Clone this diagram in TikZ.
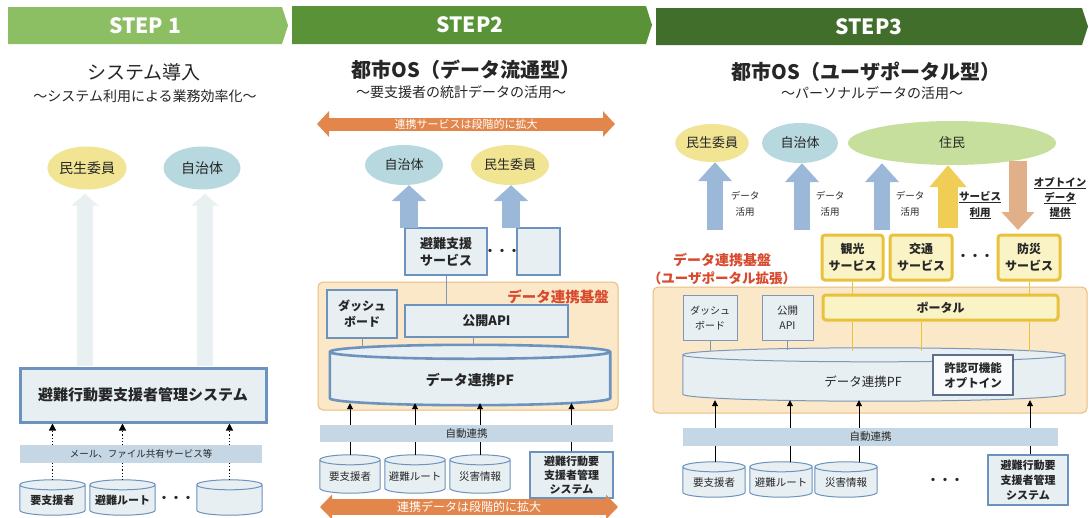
\documentclass[tikz,border=0pt]{standalone}
\usepackage{fontspec}
\setmainfont{Noto Sans CJK JP}
\usetikzlibrary{arrows.meta,shapes.geometric,calc}
\pgfdeclarelayer{bg}
\pgfdeclarelayer{mid}
\pgfsetlayers{bg,mid,main}
\definecolor{stepA}{HTML}{8CBE64}
\definecolor{stepB}{HTML}{5A9337}
\definecolor{stepC}{HTML}{426E2C}
\definecolor{boxblue}{HTML}{6B93BE}
\definecolor{boxfill}{HTML}{E7EFF3}
\definecolor{bandblue}{HTML}{C5D7E5}
\definecolor{ellY}{HTML}{F1E594}
\definecolor{ellB}{HTML}{B7D8DF}
\definecolor{ellG}{HTML}{C6DF9C}
\definecolor{arrB}{HTML}{9BB8D9}
\definecolor{arrO}{HTML}{E2864C}
\definecolor{arrO2}{HTML}{E2B088}
\definecolor{arrY}{HTML}{F0CE55}
\definecolor{faint}{HTML}{E8F0F1}
\definecolor{contF}{HTML}{FBE8C8}
\definecolor{contD}{HTML}{E9BC7E}
\definecolor{redT}{HTML}{D84A2E}
\definecolor{ygold}{HTML}{E8C23C}
\definecolor{yfill}{HTML}{FAF3C6}
\definecolor{txt}{HTML}{262626}
\definecolor{connc}{HTML}{7E97B5}
\definecolor{permD}{HTML}{5C6F8C}
\newcommand\fs[2]{\fontsize{#1}{#2}\selectfont}
\newcommand\cyltext[2]{\raisebox{-#1}[\height][\depth]{#2}}
\newcommand\drawcyl[3]{%
  \begin{pgfonlayer}{mid}
  \path[#3] let \p1=(#1.north west), \p2=(#1.south east) in
    (\x1,\y1-#2) -- (\x1,\y2+#2)
    arc[start angle=180, end angle=360, x radius={(\x2-\x1)/2}, y radius=#2]
    -- (\x2,\y1-#2)
    arc[start angle=0, end angle=180, x radius={(\x2-\x1)/2}, y radius=#2] -- cycle
    (\x1,\y1-#2) arc[start angle=180, end angle=360, x radius={(\x2-\x1)/2}, y radius=#2];
  \end{pgfonlayer}}
\tikzset{
  every node/.style={align=center, text=txt, inner sep=0pt},
  steptxt/.style={text=white, font=\fs{21}{21}\bfseries},
  ell/.style={ellipse, inner sep=0pt},
  bluebox/.style={draw=boxblue, line width=2.6pt, fill=boxfill},
  thinbox/.style={draw=boxblue, line width=1pt, fill=boxfill},
  ybox/.style={draw=ygold, line width=3pt, fill=yfill, rounded corners=3pt},
  band/.style={fill=bandblue},
  cyl/.style={inner sep=0pt},
  conn/.style={draw=connc, line width=0.8pt},
  yconn/.style={draw=ygold, line width=0.8pt},
  blk/.style={draw=black, line width=0.9pt},
  uparrow/.style={draw=black, line width=0.9pt, -{Triangle[length=6pt,width=6pt]}},
  barrow/.style n args={4}{draw=#1, line width=#2, -{Triangle[length=#3,width=#4]}},
  darrow/.style n args={4}{draw=#1, line width=#2, {Triangle[length=#3,width=#4]}-{Triangle[length=#3,width=#4]}},
  cont/.style={fill=contF, draw=contD, line width=1pt, rounded corners=5pt},
}
\begin{document}
\begin{tikzpicture}[x=1pt,y=-1pt]
\useasboundingbox (0,0) rectangle (1092,517);
\begin{pgfonlayer}{bg}
\fill[white] (0,0) rectangle (1092,517);
\end{pgfonlayer}

% ---------- banners
\fill[stepA] (8,7) -- (282,7) -- (288,25.5) -- (282,44) -- (8,44) -- cycle;
\fill[stepB] (292,6) -- (646,6) -- (652,25) -- (646,44) -- (292,44) -- cycle;
\fill[stepC] (656,8) -- (1082,8) -- (1088,26.5) -- (1082,45) -- (656,45) -- cycle;
\node[steptxt] (t1) at (145,26) {STEP 1};
\node[steptxt] (t2) at (470,25) {STEP2};
\node[steptxt] (t3) at (869,27) {STEP3};

% ---------- STEP 1
\node[font=\fs{19}{19}] (title1) at (144,72) {システム導入};
\node[font=\fs{14}{14}] (sub1) at (145,96) {～システム利用による業務効率化～};
\node[ell, fill=ellY, minimum width=77pt, minimum height=43pt, font=\fs{14}{14}] (e11) at (87,168) {民生委員};
\node[ell, fill=ellB, minimum width=77pt, minimum height=43pt, font=\fs{14}{14}] (e12) at (202,168) {自治体};
\node[bluebox, line width=3pt, minimum width=246pt, minimum height=54pt, font=\fs{15}{15}\bfseries] (sys1) at (143,395) {避難行動要支援者管理システム};
\coordinate (f1) at (85,366);
\coordinate (f2) at (205,366);
\draw[barrow={faint}{16pt}{12pt}{26pt}] (f1) -- ($(f1 |- e11.south)+(0,4)$);
\draw[barrow={faint}{16pt}{12pt}{26pt}] (f2) -- ($(f2 |- e12.south)+(0,4)$);
\node[band, minimum width=242pt, minimum height=18pt, font=\fs{9.5}{9.5}] (band1) at (141,454) {メール、ファイル共有サービス等};
\node[cyl, minimum width=65pt, minimum height=35pt, font=\fs{11}{11}\bfseries] (c11) at (52.5,497.5) {\cyltext{3pt}{要支援者}};
\node[cyl, minimum width=65pt, minimum height=35pt, font=\fs{11}{11}\bfseries] (c12) at (122.5,497.5) {\cyltext{3pt}{避難ルート}};
\node[cyl, minimum width=65pt, minimum height=35pt] (c13) at (229.5,497.5) {};
\drawcyl{c11}{5pt}{draw=boxblue, line width=1pt, fill=boxfill}
\drawcyl{c12}{5pt}{draw=boxblue, line width=1pt, fill=boxfill}
\drawcyl{c13}{5pt}{draw=boxblue, line width=1pt, fill=boxfill}
\node[font=\fs{12}{12}\bfseries] (dots1) at (176,499) {・・・};
\foreach \c in {c11,c12,c13}{
  \draw[dotted, line width=1.1pt] (\c.north) -- (\c.north |- band1.south);
  \draw[dotted, line width=1.1pt, -{Triangle[length=7pt,width=7pt]}] (band1.north -| \c.north) -- (sys1.south -| \c.north);
}

% ---------- STEP 2
\node[font=\fs{20}{20}\bfseries] (title2) at (466,70) {都市OS（データ流通型）};
\node[font=\fs{14}{14}] (sub2) at (461,92) {～要支援者の統計データの活用～};
\coordinate (o21) at (317,124);
\coordinate (o22) at (615,124);
\draw[darrow={arrO}{13pt}{12pt}{25pt}] (o21) -- (o22) node[midway, text=white, font=\fs{11}{11}] (o2t) {連携サービスは段階的に拡大};
\node[ell, fill=ellB, minimum width=78pt, minimum height=40pt, font=\fs{13}{13}] (e21) at (404,165) {自治体};
\node[ell, fill=ellY, minimum width=78pt, minimum height=40pt, font=\fs{13}{13}] (e22) at (510,165) {民生委員};
\node[bluebox, minimum width=82pt, minimum height=47pt, font=\fs{13}{17}\bfseries] (svc2) at (446,251.5) {避難支援\\サービス};
\node[font=\fs{12}{12}\bfseries] (dots2) at (502,252) {・・・};
\node[bluebox, minimum width=43pt, minimum height=47pt] (emp2) at (538.5,251.5) {};
\coordinate (a21) at (409,228);
\coordinate (a22) at (511,228);
\draw[barrow={arrB}{18pt}{16pt}{34pt}] (a21) -- (a21 |- e21.south);
\draw[barrow={arrB}{18pt}{16pt}{34pt}] (a22) -- (a22 |- e22.south);
\begin{pgfonlayer}{bg}
\draw[cont] (318,282) rectangle (618,410);
\end{pgfonlayer}
\node[anchor=east, text=redT, font=\fs{14.5}{14.5}\bfseries] (lbl2) at (609,297) {データ連携基盤};
\node[bluebox, minimum width=70pt, minimum height=48pt, font=\fs{12}{16}\bfseries] (dash2) at (362,314) {ダッシュ\\ボード};
\node[bluebox, minimum width=163pt, minimum height=32pt, font=\fs{13}{13}\bfseries] (api2) at (486.5,321) {公開API};
\node[cyl, minimum width=280pt, minimum height=60pt, font=\fs{14}{14}\bfseries] (pf2) at (470,375) {\cyltext{5pt}{データ連携PF}};
\drawcyl{pf2}{7pt}{draw=boxblue, line width=2.6pt, fill=boxfill}
\draw[conn] (svc2.south) -- (svc2.south |- api2.north);
\draw[conn] (dash2.south) -- ($(dash2.south |- pf2.north)+(0,3)$);
\coordinate (ap2) at (473,0);
\draw[conn] (api2.south -| ap2) -- ($(ap2 |- pf2.north)+(0,1)$);
\node[band, minimum width=293pt, minimum height=17pt, font=\fs{10.5}{10.5}] (band2) at (466.5,433.5) {自動連携};
\node[cyl, minimum width=60pt, minimum height=38pt, font=\fs{10.5}{10.5}] (c21) at (350,474) {\cyltext{3pt}{要支援者}};
\node[cyl, minimum width=60pt, minimum height=38pt, font=\fs{10.5}{10.5}] (c22) at (415,474) {\cyltext{3pt}{避難ルート}};
\node[cyl, minimum width=60pt, minimum height=38pt, font=\fs{10.5}{10.5}] (c23) at (480,474) {\cyltext{3pt}{災害情報}};
\drawcyl{c21}{5pt}{draw=boxblue, line width=1pt, fill=boxfill}
\drawcyl{c22}{5pt}{draw=boxblue, line width=1pt, fill=boxfill}
\drawcyl{c23}{5pt}{draw=boxblue, line width=1pt, fill=boxfill}
\node[thinbox, line width=1.4pt, minimum width=83pt, minimum height=46pt, font=\fs{11}{14}\bfseries] (sys2) at (571.5,475) {避難行動要\\支援者管理\\システム};
\foreach \c in {c21,c22,c23,sys2}{
  \draw[blk] (\c.north) -- (\c.north |- band2.south);
  \draw[uparrow] (band2.north -| \c.north) -- ($(pf2.south -| \c.north)+(0,-2)$);
}
\coordinate (o23) at (320,507);
\coordinate (o24) at (618,507);
\draw[darrow={arrO}{16pt}{12pt}{24pt}] (o23) -- (o24) node[midway, text=white, font=\fs{12}{12}] (o2b) {連携データは段階的に拡大};

% ---------- STEP 3
\node[font=\fs{20}{20}\bfseries] (title3) at (866,72) {都市OS（ユーザポータル型）};
\node[font=\fs{14}{14}] (sub3) at (872,93) {～パーソナルデータの活用～};
\node[ell, fill=ellY, minimum width=72pt, minimum height=38pt, font=\fs{13}{13}] (e31) at (712,143) {民生委員};
\node[ell, fill=ellB, minimum width=76pt, minimum height=40pt, font=\fs{13}{13}] (e32) at (800,143) {自治体};
\node[ell, fill=ellG, minimum width=208pt, minimum height=44pt, font=\fs{13}{13}] (e33) at (952,143) {住民};
\coordinate (b31) at (715,230);
\coordinate (b32) at (802,230);
\coordinate (b33) at (882,230);
\draw[barrow={arrB}{16pt}{19pt}{33pt}] (b31) -- (b31 |- e31.south);
\draw[barrow={arrB}{16pt}{19pt}{33pt}] (b32) -- (b32 |- e32.south);
\draw[barrow={arrB}{16pt}{19pt}{33pt}] (b33) -- ($(b33 |- e33.south)+(0,-2)$);
\node[font=\fs{9.5}{16}] (d31) at (745,204) {データ\\活用};
\node[font=\fs{9.5}{16}] (d32) at (830,204) {データ\\活用};
\node[font=\fs{9.5}{16}] (d33) at (910,204) {データ\\活用};
\coordinate (y31) at (948,228);
\draw[barrow={arrY}{20pt}{22pt}{36pt}] (y31) -- (y31 |- e33.south);
\node[font=\fs{10.5}{16}\bfseries] (su3) at (980,205) {\underline{サービス}\\\underline{利用}};
\coordinate (p31) at (1018,161);
\coordinate (p32) at (1018,230);
\draw[barrow={arrO2}{18pt}{18pt}{32pt}] (p31) -- (p32);
\node[font=\fs{10.5}{15}\bfseries] (op3) at (1060,198) {\underline{オプトイン}\\\underline{データ}\\\underline{提供}};
\node[ybox, minimum width=61pt, minimum height=45pt, font=\fs{12}{17}\bfseries] (kanko) at (852.5,257.5) {観光\\サービス};
\node[ybox, minimum width=62pt, minimum height=45pt, font=\fs{12}{17}\bfseries] (kotsu) at (921,257.5) {交通\\サービス};
\node[ybox, minimum width=62pt, minimum height=45pt, font=\fs{12}{17}\bfseries] (bosai) at (1029,257.5) {防災\\サービス};
\node[font=\fs{12}{12}\bfseries] (dots3a) at (975,257) {・・・};
\node[text=redT, font=\fs{14}{18}\bfseries] (lbl3) at (722,269) {データ連携基盤\\{\fs{13.5}{18}（ユーザポータル拡張）}};
\begin{pgfonlayer}{bg}
\draw[cont] (653,287) rectangle (1087,413);
\end{pgfonlayer}
\node[thinbox, draw=connc, minimum width=54pt, minimum height=45pt, font=\fs{10}{15}] (dash3) at (710,317.5) {ダッシュ\\ボード};
\node[thinbox, draw=connc, minimum width=51pt, minimum height=45pt, font=\fs{10.5}{15}] (api3) at (787.5,317.5) {公開\\API};
\node[ybox, minimum width=235pt, minimum height=25pt, font=\fs{12}{12}\bfseries] (portal) at (940.5,307.5) {ポータル};
\node[cyl, minimum width=382pt, minimum height=53pt] (pf3) at (874,374.5) {};
\drawcyl{pf3}{7pt}{draw=connc, line width=1pt, fill=boxfill}
\node[font=\fs{12.5}{12.5}] (pf3t) at (863,382) {データ連携PF};
\node[draw=permD, line width=2.2pt, fill=white!70!boxfill, minimum width=80pt, minimum height=40pt, font=\fs{11.5}{15}\bfseries] (perm) at (973,375) {許認可機能\\オプトイン};
\draw[yconn] (kanko.south) -- (kanko.south |- portal.north);
\draw[yconn] (bosai.south) -- (bosai.south |- portal.north);
\draw[yconn] (portal.south -| kanko.south) -- ($(kanko.south |- pf3.north)+(0,3)$);
\draw[yconn] (portal.south -| kotsu.south) -- ($(kotsu.south |- pf3.north)+(0,3)$);
\draw[yconn] (portal.south -| bosai.south) -- ($(bosai.south |- pf3.north)+(0,3)$);
\draw[conn] (dash3.south) -- ($(dash3.south |- pf3.north)+(0,3)$);
\draw[conn] (api3.south) -- ($(api3.south |- pf3.north)+(0,2)$);
\node[band, minimum width=375pt, minimum height=18pt, font=\fs{10.5}{10.5}] (band3) at (870.5,437) {自動連携};
\node[cyl, minimum width=62pt, minimum height=35pt, font=\fs{10.5}{10.5}] (c31) at (714,479.5) {\cyltext{3pt}{要支援者}};
\node[cyl, minimum width=62pt, minimum height=35pt, font=\fs{10.5}{10.5}] (c32) at (781,479.5) {\cyltext{3pt}{避難ルート}};
\node[cyl, minimum width=62pt, minimum height=35pt, font=\fs{10.5}{10.5}] (c33) at (846,479.5) {\cyltext{3pt}{災害情報}};
\drawcyl{c31}{5pt}{draw=boxblue, line width=1pt, fill=boxfill}
\drawcyl{c32}{5pt}{draw=boxblue, line width=1pt, fill=boxfill}
\drawcyl{c33}{5pt}{draw=boxblue, line width=1pt, fill=boxfill}
\node[font=\fs{12}{12}\bfseries] (dots3b) at (945,481) {・・・};
\node[bluebox, minimum width=80pt, minimum height=50pt, font=\fs{11}{15}\bfseries] (sys3) at (1028,480) {避難行動要\\支援者管理\\システム};
\coordinate (x31) at (715,0);
\coordinate (x32) at (790,0);
\coordinate (x33) at (859,0);
\coordinate (x34) at (1030,0);
\draw[blk] (c31.north -| x31) -- (band3.south -| x31);
\draw[blk] (c32.north -| x32) -- (band3.south -| x32);
\draw[blk] (c33.north -| x33) -- (band3.south -| x33);
\draw[blk] (sys3.north -| x34) -- (band3.south -| x34);
\foreach \c in {x31,x32,x33,x34}{
  \draw[uparrow] (band3.north -| \c) -- ($(pf3.south -| \c)+(0,-1)$);
}
\end{tikzpicture}
\end{document}
